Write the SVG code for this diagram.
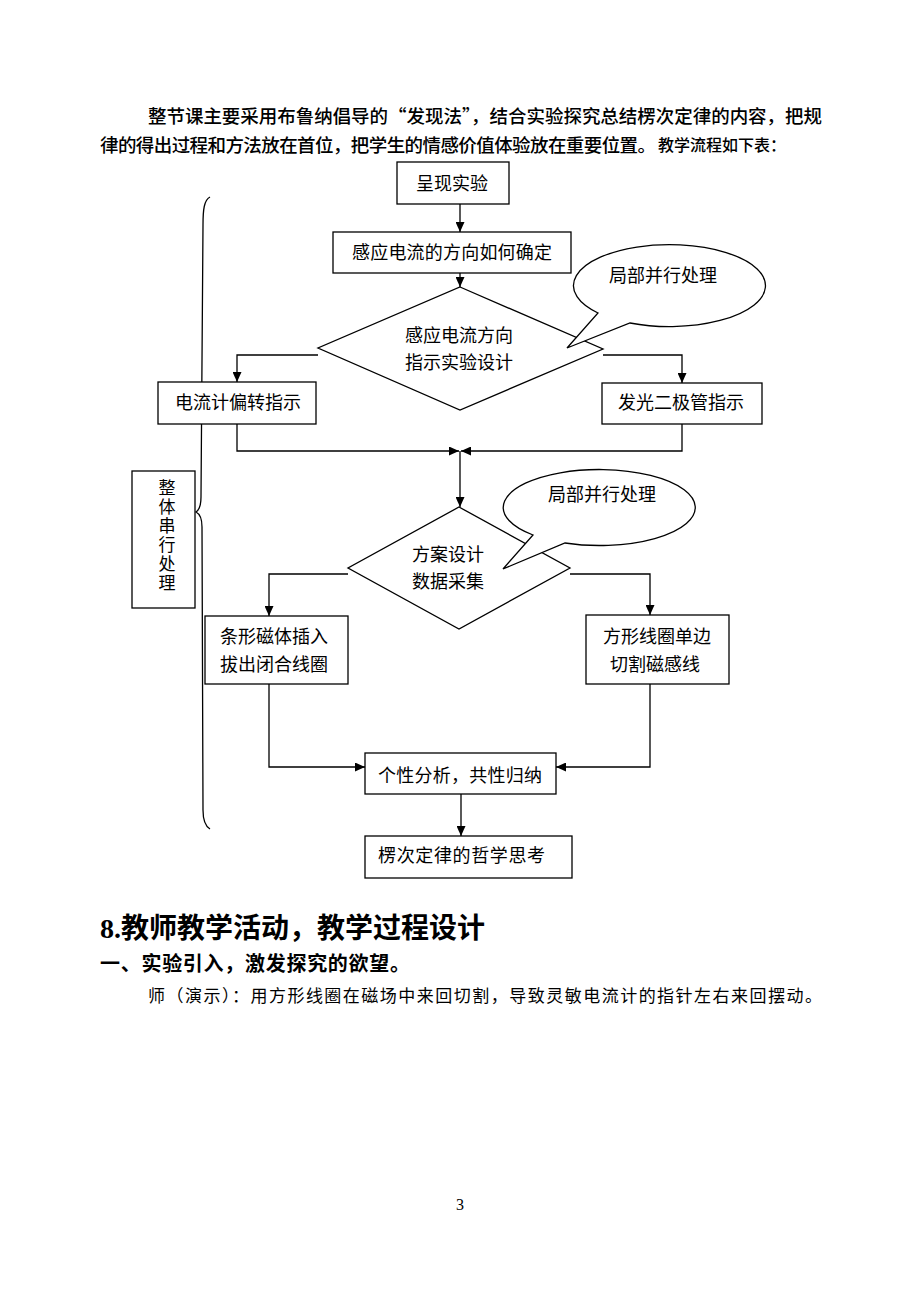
<svg xmlns="http://www.w3.org/2000/svg" width="920" height="1300" viewBox="0 0 920 1300">
<style>
.t{font-family:"Noto Sans CJK SC","Noto Sans",sans-serif;fill:#000;}
.n{font-size:18px;}
.c{text-anchor:middle;}
.box{fill:#fff;stroke:#000;stroke-width:1.3;}
.ln{fill:none;stroke:#000;stroke-width:1.3;}
.ar{fill:none;stroke:#000;stroke-width:1.3;marker-end:url(#ah);}
</style>
<defs>
<marker id="ah" markerWidth="10" markerHeight="9" refX="10" refY="4.5" orient="auto" markerUnits="userSpaceOnUse"><path d="M0,0 L10,4.5 L0,9 z" fill="#000"/></marker>
</defs>
<rect width="920" height="1300" fill="#fff"/>
<g id="intro">
<text class="t" x="148" y="123" font-size="18.5" font-weight="500" textLength="674" lengthAdjust="spacing">整节课主要采用布鲁纳倡导的“发现法”，结合实验探究总结楞次定律的内容，把规</text>
<text class="t" x="100" y="152" font-size="18.5" font-weight="500" textLength="556" lengthAdjust="spacing">律的得出过程和方法放在首位，把学生的情感价值体验放在重要位置。</text>
<text class="t" x="658" y="151" font-size="16" font-weight="500">教学流程如下表：</text>
</g>
<g id="connectors">
<path class="ar" d="M460,204 L460,232"/>
<path class="ar" d="M460,273 L460,287"/>
<path class="ar" d="M318,355 L237,355 L237,382"/>
<path class="ar" d="M603,355 L682,355 L682,383"/>
<path class="ar" d="M237,424 L237,451 L459,451"/>
<path class="ar" d="M682,424 L682,451 L461,451"/>
<path class="ar" d="M460,451 L460,507"/>
<path class="ar" d="M348,574 L269,574 L269,616"/>
<path class="ar" d="M570,574 L650,574 L650,615"/>
<path class="ar" d="M269,684 L269,767 L365,767"/>
<path class="ar" d="M650,684 L650,767 L556,767"/>
<path class="ar" d="M461,794 L461,836"/>
</g>
<g id="brace">
<path class="ln" d="M210,197 C204,200 203,210 203,225 L201,497 C201,506 199,510 196,512 C200,514 202,518 202,527 L203,810 C203,820 205,826 210,829"/>
</g>
<g id="serial">
<rect class="box" x="132" y="471" width="63" height="137"/>
<text class="t" x="167" y="479" font-size="17" fill="#222" writing-mode="tb" letter-spacing="2">整体串行处理</text>
</g>
<g id="n1">
<rect class="box" x="397" y="162" width="112" height="42"/>
<text class="t n c" x="452" y="190">呈现实验</text>
</g>
<g id="n2">
<rect class="box" x="333" y="232" width="238" height="41"/>
<text class="t n c" x="452" y="259" textLength="200" lengthAdjust="spacing">感应电流的方向如何确定</text>
</g>
<g id="d1">
<polygon class="box" points="460,287 603,349 460,410 318,348"/>
<text class="t n c" x="459" y="342">感应电流方向</text>
<text class="t n c" x="459" y="369">指示实验设计</text>
</g>
<g id="bubble1">
<path class="box" d="M598,313 A96,41 0 1 1 630,323 L567,348 Z"/>
<text class="t n c" x="663" y="282">局部并行处理</text>
</g>
<g id="n3">
<rect class="box" x="158" y="382" width="158" height="42"/>
<text class="t n c" x="238" y="409">电流计偏转指示</text>
</g>
<g id="n4">
<rect class="box" x="602" y="383" width="160" height="41"/>
<text class="t n c" x="681" y="409">发光二极管指示</text>
</g>
<g id="d2">
<polygon class="box" points="459,507 570,568 459,629 348,568"/>
<text class="t n c" x="448" y="561">方案设计</text>
<text class="t n c" x="448" y="588">数据采集</text>
</g>
<g id="bubble2">
<path class="box" d="M533,535 A96,38 0 1 1 565,543 L503,569 Z"/>
<text class="t n c" x="602" y="501">局部并行处理</text>
</g>
<g id="n5">
<rect class="box" x="205" y="616" width="143" height="68"/>
<text class="t n c" x="274" y="643">条形磁体插入</text>
<text class="t n c" x="274" y="671">拔出闭合线圈</text>
</g>
<g id="n6">
<rect class="box" x="586" y="615" width="143" height="69"/>
<text class="t n c" x="657" y="643">方形线圈单边</text>
<text class="t n c" x="655" y="671">切割磁感线</text>
</g>
<g id="n7">
<rect class="box" x="365" y="753" width="191" height="41"/>
<text class="t n c" x="460" y="782" textLength="164" lengthAdjust="spacing">个性分析，共性归纳</text>
</g>
<g id="n8">
<rect class="box" x="365" y="836" width="207" height="42"/>
<text class="t n" x="378" y="862" textLength="167" lengthAdjust="spacing">楞次定律的哲学思考</text>
</g>
<g id="section">
<text x="100" y="938" font-size="28" font-weight="bold" font-family="'Liberation Serif','Noto Sans CJK SC',serif" fill="#000">8.<tspan font-family="'Noto Sans CJK SC',sans-serif">教师教学活动，教学过程设计</tspan></text>
<text class="t" x="100" y="971" font-size="20" font-weight="bold" textLength="310" lengthAdjust="spacing">一、实验引入，激发探究的欲望。</text>
<text class="t" x="148" y="1002" font-size="17" textLength="674" lengthAdjust="spacing">师（演示）：用方形线圈在磁场中来回切割，导致灵敏电流计的指针左右来回摆动。</text>
</g>
<text x="460" y="1210" font-size="16" font-family="'Liberation Serif',serif" text-anchor="middle" fill="#000">3</text>
</svg>
